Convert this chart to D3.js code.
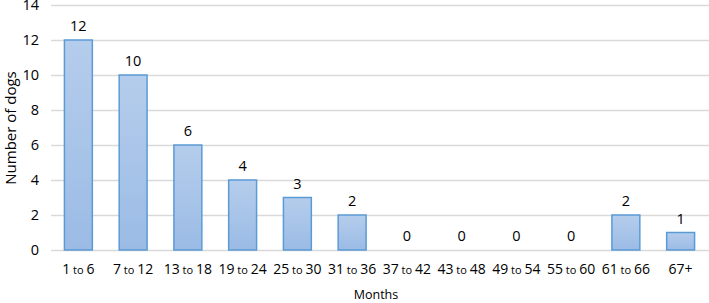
<!DOCTYPE html>
<html>
<head>
<meta charset="utf-8">
<script src="https://cdn.jsdelivr.net/npm/d3@7"></script>
<style>
  body { margin: 0; background: #fff; }
  text { font-family: "Open Sans", "Noto Sans", sans-serif; fill: #000; }
</style>
</head>
<body>
<svg id="chart" width="709" height="303"></svg>
<script>
"use strict";

// data
const rangeFrom = ["1", "7", "13", "19", "25", "31", "37", "43", "49", "55", "61", "67+"];
const rangeTo   = ["6", "12", "18", "24", "30", "36", "42", "48", "54", "60", "66", null];
const dogCounts = [12, 10, 6, 4, 3, 2, 0, 0, 0, 0, 2, 1];
const yTicks = [0, 2, 4, 6, 8, 10, 12, 14];

const svg = d3.select("#chart");
const margin = {left: 51, right: 0, top: 5, bottom: 52};
const width = 709 - margin.left - margin.right;
const height = 303 - margin.top - margin.bottom;

const defs = svg.append("defs");
const grad = defs.append("linearGradient")
    .attr("id", "barFill")
    .attr("x1", 0).attr("y1", 0).attr("x2", 0).attr("y2", 1);
grad.append("stop").attr("offset", "0%").attr("stop-color", "#b5cdec");
grad.append("stop").attr("offset", "100%").attr("stop-color", "#9bbbe5");

const chart = svg.append("g")
    .attr("transform", `translate(${margin.left},${margin.top})`);

const scaleX = d3.scaleBand()
    .domain(d3.range(dogCounts.length))
    .range([0, width - 1])
    .paddingInner(0.49)
    .paddingOuter(0.245);

const scaleY = d3.scaleLinear()
    .domain([0, 14])
    .range([height - 1, 0]);

// horizontal grid
chart.append("g")
    .attr("class", "yGrid grid")
    .call(d3.axisLeft(scaleY)
        .tickValues(yTicks)
        .tickSize(-width)
        .tickPadding(12)
    );
chart.selectAll("g.yGrid line")
    .attr("stroke", "#d9d9d9")
    .attr("stroke-width", 1.5);
chart.select("g.yGrid .domain").remove();
chart.selectAll("g.yGrid text")
    .style("font-size", "14.5px");

// bars
chart.selectAll("rect.bar")
    .data(dogCounts)
    .enter().append("rect")
    .attr("class", "bar")
    .attr("x", (d, i) => scaleX(i))
    .attr("y", d => scaleY(d))
    .attr("width", scaleX.bandwidth())
    .attr("height", d => scaleY(0) - scaleY(d))
    .attr("fill", "url(#barFill)")
    .attr("stroke", "#5b9bd5")
    .attr("stroke-width", 1.5)
    .style("display", d => d === 0 ? "none" : null);

// value labels
chart.selectAll("text.val")
    .data(dogCounts)
    .enter().append("text")
    .attr("class", "val")
    .attr("x", (d, i) => scaleX(i) + scaleX.bandwidth() / 2)
    .attr("y", d => scaleY(d) - 9)
    .attr("text-anchor", "middle")
    .style("font-size", "14.5px")
    .text(d => d);

// category labels, "to" set smaller
const cat = chart.selectAll("text.cat")
    .data(rangeFrom)
    .enter().append("text")
    .attr("class", "cat")
    .attr("x", (d, i) => scaleX(i) + scaleX.bandwidth() / 2)
    .attr("y", height + 23)
    .attr("text-anchor", "middle")
    .style("font-size", "14px");
cat.append("tspan").text(d => d);
cat.filter((d, i) => rangeTo[i] !== null)
    .append("tspan").style("font-size", "11px").text(" to ");
cat.filter((d, i) => rangeTo[i] !== null)
    .append("tspan").text(d => rangeTo[rangeFrom.indexOf(d)]);

// axis titles
svg.append("text")
    .attr("x", 376)
    .attr("y", 299)
    .attr("text-anchor", "middle")
    .style("font-size", "12.5px")
    .text("Months");

svg.append("text")
    .attr("transform", `translate(16,${margin.top + height / 2}) rotate(-90)`)
    .attr("text-anchor", "middle")
    .style("font-size", "15px")
    .text("Number of dogs");
</script>
</body>
</html>
